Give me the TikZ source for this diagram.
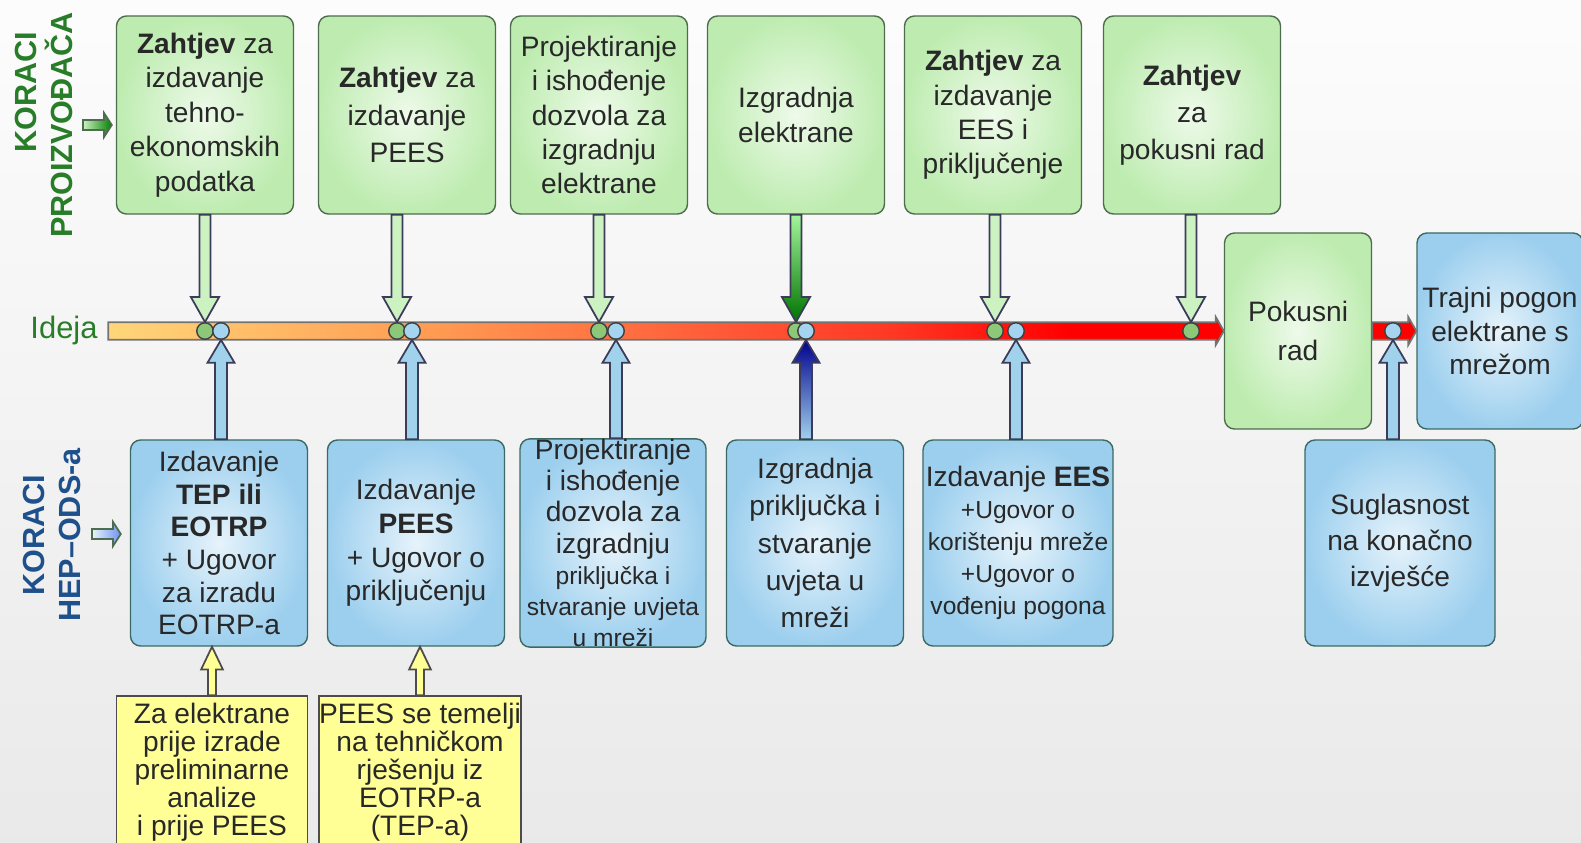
\documentclass[tikz,border=0pt]{standalone}
\usepackage{fontspec}
\setmainfont{Liberation Sans}
\usetikzlibrary{calc}
\definecolor{boxgreen}{RGB}{190,236,176}
\definecolor{boxgreenin}{RGB}{238,250,234}
\definecolor{boxblue}{RGB}{156,207,238}
\definecolor{boxbluein}{RGB}{230,243,251}
\definecolor{noteyellow}{RGB}{255,255,150}
\definecolor{edgegreen}{RGB}{78,108,78}
\definecolor{edgeblue}{RGB}{58,106,98}
\definecolor{arrowedge}{RGB}{60,60,90}
\definecolor{txt}{RGB}{40,40,40}
\definecolor{titlegreen}{RGB}{40,125,40}
\definecolor{titleblue}{RGB}{30,80,140}
\definecolor{dotgreen}{RGB}{140,200,120}
\definecolor{dotblue}{RGB}{165,212,240}
\definecolor{arrowgreen}{RGB}{204,242,194}
\definecolor{arrowblue}{RGB}{160,210,236}
\pgfdeclarehorizontalshading{ideashade}{100bp}{rgb(0bp)=(1,0.84,0.48); rgb(25bp)=(1,0.84,0.48); rgb(40bp)=(1,0.6,0.32); rgb(52bp)=(1,0.36,0.22); rgb(60bp)=(1,0.22,0.14); rgb(68bp)=(1,0,0); rgb(100bp)=(1,0,0)}
\newcommand{\smalltxt}{\fontsize{7}{8}\selectfont}

% fat vertical arrow: style, from, to, shaft half, head half, head length
\newcommand{\fatv}[6]{%
  \path[#1] let \p1=(#2), \p2=(#3), \p3=($(#3)!#6!(#2)$) in
    (\x2-#4,\y1) -- (\x2-#4,\y3) -- (\x2-#5,\y3) -- (\x2,\y2)
    -- (\x2+#5,\y3) -- (\x2+#4,\y3) -- (\x2+#4,\y1) -- cycle;}
% fat horizontal arrow
\newcommand{\fath}[6]{%
  \path[#1] let \p1=(#2), \p2=(#3), \p3=($(#3)!#6!(#2)$) in
    (\x1,\y2-#4) -- (\x3,\y2-#4) -- (\x3,\y2-#5) -- (\x2,\y2)
    -- (\x3,\y2+#5) -- (\x3,\y2+#4) -- (\x1,\y2+#4) -- cycle;}

\begin{document}
\begin{tikzpicture}[
    x=0.1mm, y=-0.1mm,
    stepgreen/.style={
        rectangle,
        draw=edgegreen,
        rounded corners=1mm,
        inner color=boxgreenin,
        outer color=boxgreen,
        minimum width=17.7mm,
        minimum height=19.8mm,
        inner sep=0pt,
        align=center,
        text=txt,
        font=\fontsize{8}{9.8}\selectfont
    },
    stepblue/.style={
        stepgreen,
        draw=edgeblue,
        inner color=boxbluein,
        outer color=boxblue,
        minimum height=20.6mm,
        font=\fontsize{8}{9.3}\selectfont
    },
    notebox/.style={
        rectangle,
        draw=black!70,
        fill=noteyellow,
        minimum height=15.2mm,
        inner sep=0pt,
        align=center,
        text=txt,
        font=\fontsize{8}{8}\selectfont
    },
    loose/.style={font=\fontsize{8}{10.6}\selectfont},
    dotg/.style={circle, draw=black!75, fill=dotgreen, minimum size=1.65mm, inner sep=0pt},
    dotb/.style={circle, draw=black!75, fill=dotblue, minimum size=1.65mm, inner sep=0pt},
    downArrow/.style={draw=arrowedge, line width=0.5pt, fill=arrowgreen},
    upArrow/.style={draw=arrowedge, line width=0.5pt, fill=arrowblue},
    noteArrow/.style={draw=black!70, line width=0.5pt, fill=noteyellow},
    title/.style={rotate=90, align=center, font=\fontsize{8.7}{10.5}\selectfont\bfseries}
]
    % background
    \useasboundingbox (0,0) rectangle (1581,843);
    \clip (0,0) rectangle (1581,843);
    \shade[top color=gray!2, bottom color=gray!17] (0,0) rectangle (1581,843);

    % Steps of the producer (top)
    \node[stepgreen] (zahtjev1) at (205,115) {\textbf{Zahtjev} za\\izdavanje\\tehno-\\ekonomskih\\podatka};
    \node[stepgreen, loose] (zahtjev2) at (407,115) {\textbf{Zahtjev} za\\izdavanje\\PEES};
    \node[stepgreen] (projekt) at (599,115) {Projektiranje\\i ishođenje\\dozvola za\\izgradnju\\elektrane};
    \node[stepgreen] (izgradnja) at (796,115) {Izgradnja\\elektrane};
    \node[stepgreen] (zahtjev3) at (993,115) {\textbf{Zahtjev} za\\izdavanje\\EES i\\priključenje};
    \node[stepgreen, loose] (zahtjev4) at (1192,115) {\textbf{Zahtjev}\\za\\pokusni rad};
    \node[stepgreen, minimum width=14.7mm, minimum height=19.6mm, font=\fontsize{8}{10.9}\selectfont] (pokus) at (1298,331) {Pokusni\\rad};
    \node[stepblue, minimum width=16.6mm, minimum height=19.6mm, font=\fontsize{8}{9.5}\selectfont] (trajni) at (1500,331) {Trajni pogon\\elektrane s\\mrežom};

    % Steps of HEP-ODS (bottom)
    \node[stepblue] (tep) at (219,543) {Izdavanje\\\textbf{TEP ili}\\\textbf{EOTRP}\\+ Ugovor\\za izradu\\EOTRP-a};
    \node[stepblue, font=\fontsize{8}{9.6}\selectfont] (pees) at (416,543) {Izdavanje\\\textbf{PEES}\\+ Ugovor o\\priključenju};
    \node[stepblue, minimum width=18.6mm, font=\fontsize{8}{8.9}\selectfont] (dozvola) at (613,543) {Projektiranje\\i ishođenje\\dozvola za\\izgradnju\\{\smalltxt priključka i}\\{\smalltxt stvaranje uvjeta}\\{\smalltxt u mreži}};
    \node[stepblue, loose] (prikljucak) at (815,543) {Izgradnja\\priključka i\\stvaranje\\uvjeta u\\mreži};
    \node[stepblue, minimum width=19mm, font=\fontsize{8}{9.1}\selectfont] (ees) at (1018,543) {Izdavanje \textbf{EES}\\{\smalltxt +Ugovor o}\\{\smalltxt korištenju mreže}\\{\smalltxt +Ugovor o}\\{\smalltxt vođenju pogona}};
    \node[stepblue, minimum width=19mm, font=\fontsize{8}{10.2}\selectfont] (suglasnost) at (1400,543) {Suglasnost\\na konačno\\izvješće};

    % Notes
    \node[notebox, minimum width=19.1mm] (napomena1) at (212,772) {Za elektrane\\prije izrade\\preliminarne\\analize\\i prije PEES};
    \node[notebox, minimum width=20.2mm] (napomena2) at (420,772) {PEES se temelji\\na tehničkom\\rješenju iz\\EOTRP-a\\(TEP-a)};

    % Titles
    \node[title, text=titlegreen] (koraciP) at (44,125) {\hspace*{6.6mm}KORACI\\PROIZVOĐAČA};
    \node[title, text=titleblue] (koraciH) at (52,535) {KORACI\\HEP–ODS-a};
    \node[text=titlegreen, font=\fontsize{8.8}{10}\selectfont, inner sep=1mm] (ideja) at (64,331) {Ideja};

    % Timeline
    \fath{draw=black!55, line width=0.5pt, shading=ideashade}{ideja.east}{pokus.west}{2.5pt}{4pt}{2.3pt}
    \fath{draw=black!55, line width=0.5pt, fill=red}{pokus.east}{trajni.west}{2.5pt}{4pt}{2.3pt}

    % Milestones on the timeline
    \node[dotg] (g1) at (205,331) {};
    \node[dotb] (b1) at (221,331) {};
    \node[dotg] (g2) at (397,331) {};
    \node[dotb] (b2) at (412,331) {};
    \node[dotg] (g3) at (599,331) {};
    \node[dotb] (b3) at (616,331) {};
    \node[dotg] (g4) at (796,331) {};
    \node[dotb] (b4) at (806,331) {};
    \node[dotg] (g5) at (995,331) {};
    \node[dotb] (b5) at (1016,331) {};
    \node[dotg] (g6) at (1191,331) {};
    \node[dotb] (b6) at (1393,331) {};

    % Arrows to the timeline
    \fatv{downArrow}{g1 |- zahtjev1.south}{g1.north}{1.55pt}{4pt}{7.1pt}
    \fatv{downArrow}{g2 |- zahtjev2.south}{g2.north}{1.55pt}{4pt}{7.1pt}
    \fatv{downArrow}{g3 |- projekt.south}{g3.north}{1.55pt}{4pt}{7.1pt}
    \fatv{draw=arrowedge, line width=0.5pt, top color=arrowgreen!80!green, bottom color=green!45!black}{g4 |- izgradnja.south}{g4.north}{1.55pt}{4pt}{7.1pt}
    \fatv{downArrow}{g5 |- zahtjev3.south}{g5.north}{1.55pt}{4pt}{7.1pt}
    \fatv{downArrow}{g6 |- zahtjev4.south}{g6.north}{1.55pt}{4pt}{7.1pt}

    \fatv{upArrow}{b1 |- tep.north}{b1.south}{1.7pt}{3.85pt}{6.5pt}
    \fatv{upArrow}{b2 |- pees.north}{b2.south}{1.7pt}{3.85pt}{6.5pt}
    \fatv{upArrow}{b3 |- dozvola.north}{b3.south}{1.7pt}{3.85pt}{6.5pt}
    \fatv{draw=arrowedge, line width=0.5pt, bottom color=arrowblue, top color=blue!55!black}{b4 |- prikljucak.north}{b4.south}{1.7pt}{3.85pt}{6.5pt}
    \fatv{upArrow}{b5 |- ees.north}{b5.south}{1.7pt}{3.85pt}{6.5pt}
    \fatv{upArrow}{b6 |- suglasnost.north}{b6.south}{1.7pt}{3.85pt}{6.5pt}

    % Notes to HEP-ODS steps
    \fatv{noteArrow}{napomena1.north}{napomena1.north |- tep.south}{1.15pt}{3.1pt}{6.5pt}
    \fatv{noteArrow}{napomena2.north}{napomena2.north |- pees.south}{1.15pt}{3.1pt}{6.5pt}

    % Title arrows
    \coordinate (pStart) at (83,125);
    \coordinate (hStart) at (92,534);
    \fath{draw=edgegreen, line width=0.5pt, left color=arrowgreen, right color=green!50!black}{pStart}{[xshift=-0.4mm]zahtjev1.west |- pStart}{1.4pt}{3.4pt}{2.2pt}
    \fath{draw=edgegreen, line width=0.5pt, left color=boxbluein, right color=arrowblue!70!blue}{hStart}{[xshift=-0.9mm]tep.west |- hStart}{1.4pt}{3.4pt}{2.2pt}
\end{tikzpicture}
\end{document}
